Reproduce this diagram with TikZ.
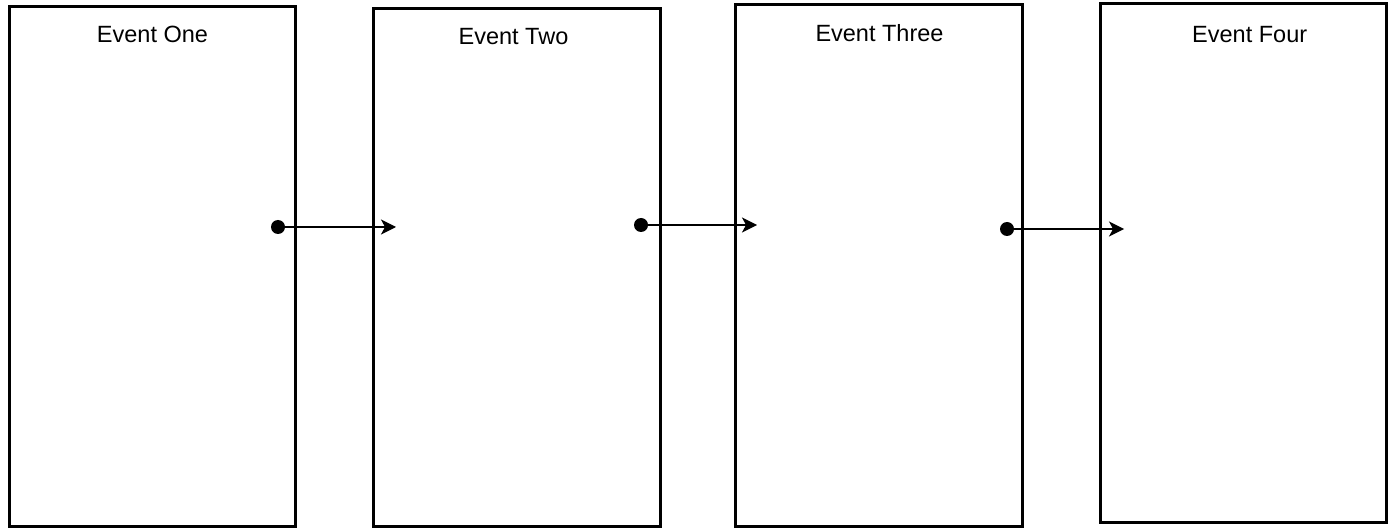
\documentclass[tikz,border=0pt]{standalone}
\usepackage{fontspec}
\setmainfont{Liberation Sans}
\usetikzlibrary{arrows.meta}

\tikzset{
  eventbox/.style={draw, line width=3pt, rectangle, inner sep=0pt},
  eventlabel/.style={anchor=base, inner sep=0pt},
  linkdot/.style={circle, fill, inner sep=0pt, minimum size=14pt},
  link/.style={line width=1.5pt, -{Stealth[length=15pt,width=15pt,inset=4pt]}}
}

\begin{document}
\begin{tikzpicture}[x=1pt, y=-1pt, font=\fontsize{23.5}{28}\selectfont]

  \useasboundingbox (0,0) rectangle (1395,529);

  %--- Event boxes ---------------------------------------------------------
  \node[eventbox, minimum width=286pt, minimum height=519pt] (one)   at (152.5,266.5)  {};
  \node[eventbox, minimum width=287pt, minimum height=517pt] (two)   at (516.5,267.5)  {};
  \node[eventbox, minimum width=287pt, minimum height=521pt] (three) at (878.5,265.5)  {};
  \node[eventbox, minimum width=286pt, minimum height=519pt] (four)  at (1243,262.7)   {};

  %--- Titles --------------------------------------------------------------
  \node[eventlabel] (oneT)   at (152.5,42.7) {Event One};
  \node[eventlabel] (twoT)   at (513.5,45)   {Event Two};
  \node[eventlabel] (threeT) at (879.5,41.7) {Event Three};
  \node[eventlabel] (fourT)  at (1249.7,43)  {Event Four};

  %--- Links ---------------------------------------------------------------
  \node[linkdot] (d1) at (278,227) {};
  \node[linkdot] (d2) at (641,225) {};
  \node[linkdot] (d3) at (1007,229) {};
  \coordinate (t1) at (396,227);
  \coordinate (t2) at (757,225);
  \coordinate (t3) at (1124,229);

  \draw[link] (d1.center) -- (t1);
  \draw[link] (d2.center) -- (t2);
  \draw[link] (d3.center) -- (t3);

\end{tikzpicture}
\end{document}
